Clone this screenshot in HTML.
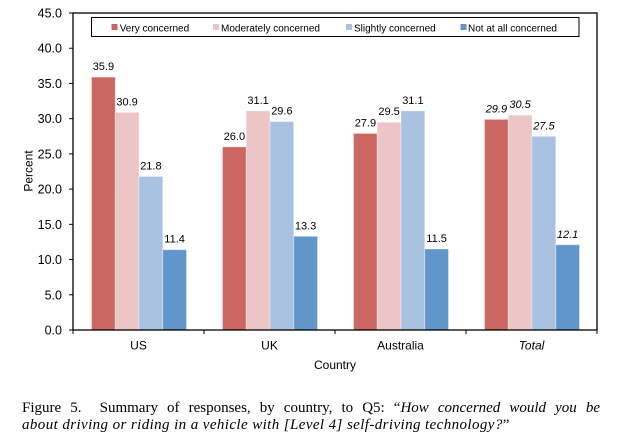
<!DOCTYPE html>
<html>
<head>
<meta charset="utf-8">
<style>
  html,body{margin:0;padding:0;background:#fff;}
  body{width:624px;height:448px;position:relative;overflow:hidden;}
  svg{position:absolute;left:0;top:0;}
  .cap{position:absolute;left:22px;width:578px;font-family:"Liberation Serif",serif;font-size:15px;line-height:17px;color:#000;}
  .l1{top:400px;text-align:justify;text-align-last:justify;}
  .l2{top:417px;letter-spacing:0.4px;}
  i{font-style:italic;}
</style>
</head>
<body>
<svg width="624" height="448" viewBox="0 0 624 448" xmlns="http://www.w3.org/2000/svg" font-family="Liberation Sans, Arial, sans-serif">
  <g stroke="#ffffff" stroke-opacity="0.35" stroke-width="1">
    <rect x="91.5" y="77.12" width="23.75" height="252.88" fill="#CC6661"/>
    <rect x="115.25" y="112.34" width="23.75" height="217.66" fill="#ECC6C6"/>
    <rect x="139" y="176.44" width="23.75" height="153.56" fill="#A8C2E0"/>
    <rect x="162.75" y="249.7" width="23.75" height="80.3" fill="#6096CA"/>
    <rect x="222.5" y="146.86" width="23.75" height="183.14" fill="#CC6661"/>
    <rect x="246.25" y="110.93" width="23.75" height="219.07" fill="#ECC6C6"/>
    <rect x="270" y="121.5" width="23.75" height="208.5" fill="#A8C2E0"/>
    <rect x="293.75" y="236.31" width="23.75" height="93.69" fill="#6096CA"/>
    <rect x="353.5" y="133.47" width="23.75" height="196.53" fill="#CC6661"/>
    <rect x="377.25" y="122.2" width="23.75" height="207.8" fill="#ECC6C6"/>
    <rect x="401" y="110.93" width="23.75" height="219.07" fill="#A8C2E0"/>
    <rect x="424.75" y="248.99" width="23.75" height="81.01" fill="#6096CA"/>
    <rect x="484.5" y="119.38" width="23.75" height="210.62" fill="#CC6661"/>
    <rect x="508.25" y="115.16" width="23.75" height="214.84" fill="#ECC6C6"/>
    <rect x="532" y="136.29" width="23.75" height="193.71" fill="#A8C2E0"/>
    <rect x="555.75" y="244.77" width="23.75" height="85.23" fill="#6096CA"/>
  </g>

  <rect x="73" y="13" width="524" height="317" fill="none" stroke="#000" stroke-width="1.3"/>

  <g stroke="#000" stroke-width="1">
    <line x1="69" y1="330" x2="73" y2="330"/>
    <line x1="69" y1="294.78" x2="73" y2="294.78"/>
    <line x1="69" y1="259.56" x2="73" y2="259.56"/>
    <line x1="69" y1="224.34" x2="73" y2="224.34"/>
    <line x1="69" y1="189.12" x2="73" y2="189.12"/>
    <line x1="69" y1="153.9" x2="73" y2="153.9"/>
    <line x1="69" y1="118.68" x2="73" y2="118.68"/>
    <line x1="69" y1="83.46" x2="73" y2="83.46"/>
    <line x1="69" y1="48.24" x2="73" y2="48.24"/>
    <line x1="69" y1="13.02" x2="73" y2="13.02"/>
    <line x1="73" y1="330" x2="73" y2="334"/>
    <line x1="204" y1="330" x2="204" y2="334"/>
    <line x1="335" y1="330" x2="335" y2="334"/>
    <line x1="466" y1="330" x2="466" y2="334"/>
    <line x1="597" y1="330" x2="597" y2="334"/>
  </g>

  <g font-size="12.5" fill="#000" text-anchor="end">
    <text x="62" y="334.5">0.0</text>
    <text x="62" y="299.3">5.0</text>
    <text x="62" y="264.1">10.0</text>
    <text x="62" y="228.8">15.0</text>
    <text x="62" y="193.6">20.0</text>
    <text x="62" y="158.4">25.0</text>
    <text x="62" y="123.2">30.0</text>
    <text x="62" y="88">35.0</text>
    <text x="62" y="52.7">40.0</text>
    <text x="62" y="17.5">45.0</text>
  </g>

  <text x="0" y="0" font-size="12" fill="#000" text-anchor="middle" transform="translate(32.5,171) rotate(-90)">Percent</text>
  <text x="335" y="369" font-size="12" fill="#000" text-anchor="middle">Country</text>

  <g font-size="12" fill="#000" text-anchor="middle">
    <text x="138.5" y="349.5">US</text>
    <text x="269.5" y="349.5">UK</text>
    <text x="400.5" y="349.5">Australia</text>
    <text x="531.5" y="349.5" font-style="italic">Total</text>
  </g>

  <g font-size="11" fill="#000" text-anchor="middle">
    <text x="103.4" y="70.1">35.9</text>
    <text x="127.1" y="105.3">30.9</text>
    <text x="150.9" y="169.4">21.8</text>
    <text x="174.6" y="242.7">11.4</text>
    <text x="234.4" y="139.9">26.0</text>
    <text x="258.1" y="103.9">31.1</text>
    <text x="281.9" y="114.5">29.6</text>
    <text x="305.6" y="229.3">13.3</text>
    <text x="365.4" y="126.5">27.9</text>
    <text x="389.1" y="115.2">29.5</text>
    <text x="412.9" y="103.9">31.1</text>
    <text x="436.6" y="242">11.5</text>
    <g font-style="italic">
      <text x="496.4" y="112.4">29.9</text>
      <text x="520.1" y="108.2">30.5</text>
      <text x="543.9" y="129.3">27.5</text>
      <text x="567.6" y="237.8">12.1</text>
    </g>
  </g>

  <rect x="91.5" y="17.5" width="487.5" height="19" fill="#fff" stroke="#000" stroke-width="1"/>
  <rect x="111.5" y="24" width="6" height="6" fill="#CC6661"/>
  <rect x="213" y="24" width="6" height="6" fill="#ECC6C6"/>
  <rect x="346" y="24" width="6" height="6" fill="#A8C2E0"/>
  <rect x="460.5" y="24" width="6" height="6" fill="#6096CA"/>
  <g font-size="10" fill="#000">
    <text x="119.7" y="31.5">Very concerned</text>
    <text x="221" y="31.5">Moderately concerned</text>
    <text x="354" y="31.5">Slightly concerned</text>
    <text x="468" y="31.5">Not at all concerned</text>
  </g>
</svg>

<div class="cap l1">Figure 5.&nbsp; Summary of responses, by country, to Q5: “<i>How concerned would you be</i></div>
<div class="cap l2"><i>about driving or riding in a vehicle with [Level 4] self-driving technology?</i>”</div>
</body>
</html>
